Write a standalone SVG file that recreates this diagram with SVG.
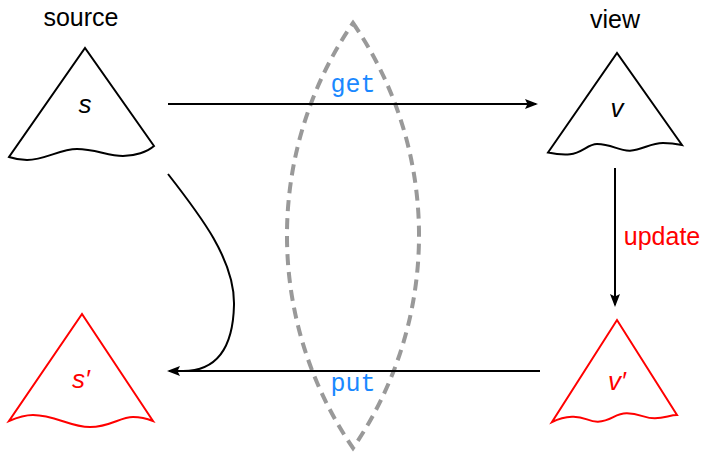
<svg xmlns="http://www.w3.org/2000/svg" width="708" height="454" viewBox="0 0 708 454">
<style>
.lbl{font-family:"Liberation Sans","DejaVu Sans",sans-serif;font-size:25px;text-anchor:middle}
.it{font-family:"Liberation Sans","DejaVu Sans",sans-serif;font-size:26px;font-style:italic;text-anchor:middle}
.code{font-family:"Liberation Mono","DejaVu Sans Mono",monospace;font-size:25px;fill:#1a88ff;text-anchor:middle}
.tri{fill:none;stroke:#000;stroke-width:2;stroke-linejoin:miter}
.red{stroke:#ff0000}
.conn{fill:none;stroke:#000;stroke-width:2}
</style>
<defs>
<marker id="ah" markerUnits="userSpaceOnUse" markerWidth="14" markerHeight="10" refX="11" refY="5" orient="auto">
<path d="M0,0 L13,5 L0,10 L2.5,5 Z" fill="#000"/>
</marker>
</defs>
<g id="lens">
<path d="M353,23 A375,375 0 0 1 353,448 A375,375 0 0 1 353,23 Z" fill="none" stroke="#999" stroke-width="4" stroke-dasharray="11 7"/>
</g>
<g id="connectors">
<path class="conn" d="M168,104 L536,104" marker-end="url(#ah)"/>
<path class="conn" d="M540,371 L169,371" marker-end="url(#ah)"/>
<path class="conn" d="M615,168 L615,305" marker-end="url(#ah)"/>
<path class="conn" d="M168,174 C200,215 235,260 234,305 C233,350 215,371 183,371"/>
<text class="code" x="353" y="92">get</text>
<text class="code" x="353" y="391">put</text>
<text class="lbl" x="662" y="245" style="fill:#ff0000">update</text>
</g>
<g id="source">
<text class="lbl" x="81" y="26">source</text>
<path class="tri" d="M154,146 L85,48 L9,157 C15,159 21,160 27,160 C45,160 60,149 77,149 C95,149 108,156 123,156 C135,156 147,152 154,146 Z"/>
<text class="it" x="85" y="113">s</text>
</g>
<g id="view">
<text class="lbl" x="615" y="28">view</text>
<path class="tri" d="M682,145 L617,53 L548,152.5 C555,154 562,155 570,154.3 C582,153 588,144 597,144 C612,144 618,151 630,150.7 C643,150 650,143 663,143 C672,143 677,144 682,145 Z"/>
<text class="it" x="617" y="117">v</text>
</g>
<g id="source-prime">
<path class="tri red" d="M153,421 L82,314 L9,421 C16,418 25,415 33,415 C55,415 70,427 90,427 C110,427 120,417 133,417 C142,417 148,419 153,421 Z"/>
<text class="it" x="81" y="388" fill="#ff0000">s′</text>
</g>
<g id="view-prime">
<path class="tri red" d="M677,415 L617,320 L552,422 C558,419 564,417 572,416.7 C585,416 588,422 598,421.7 C612,421 615,413 627,413.3 C640,413.5 645,418.5 655,418.3 C665,418 670,415 677,415 Z"/>
<text class="it" x="617" y="390" fill="#ff0000">v′</text>
</g>
</svg>
